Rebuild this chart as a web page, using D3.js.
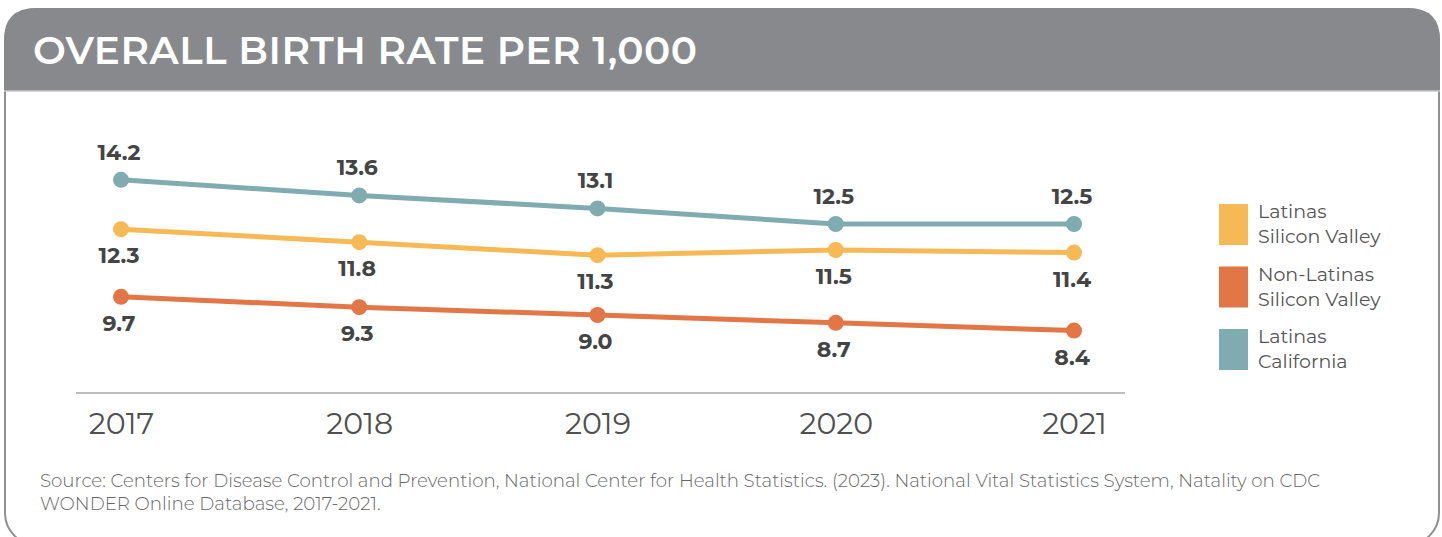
<!DOCTYPE html>
<meta charset="utf-8">
<style>
body { margin: 0; background: #fff; }
text { font-family: "Montserrat", "Inter", "Lato", sans-serif; }
</style>
<svg width="1442" height="537"></svg>
<script src="https://d3js.org/d3.v7.min.js"></script>
<script>
// data
const years = ["2017", "2018", "2019", "2020", "2021"];
const latinasSV = [12.3, 11.8, 11.3, 11.5, 11.4];
const nonLatinasSV = [9.7, 9.3, 9.0, 8.7, 8.4];
const latinasCA = [14.2, 13.6, 13.1, 12.5, 12.5];
const seriesNames = [["Latinas", "Silicon Valley"], ["Non-Latinas", "Silicon Valley"], ["Latinas", "California"]];
const seriesColors = ["#f7b955", "#e27646", "#7fabb1"];
const title = "OVERALL BIRTH RATE PER 1,000";
const sourceLines = [
  "Source: Centers for Disease Control and Prevention, National Center for Health Statistics. (2023). National Vital Statistics System, Natality on CDC",
  "WONDER Online Database, 2017-2021."
];

const series = [
  {values: latinasSV, color: seriesColors[0], above: false},
  {values: nonLatinasSV, color: seriesColors[1], above: false},
  {values: latinasCA, color: seriesColors[2], above: true}
];

const svg = d3.select("svg");

// panel
svg.append("rect")
  .attr("x", 5).attr("y", 9).attr("width", 1434).attr("height", 536)
  .attr("rx", 32).attr("fill", "#fff").attr("stroke", "#8f9094").attr("stroke-width", 2);

// header: rounded top, square bottom
const hx = 4, hy = 8, hw = 1436, hh = 83, r = 32;
svg.append("path")
  .attr("d", `M${hx},${hy + hh} V${hy + r} Q${hx},${hy} ${hx + r},${hy} H${hx + hw - r} Q${hx + hw},${hy} ${hx + hw},${hy + r} V${hy + hh} Z`)
  .attr("fill", "#88898d");
svg.append("line")
  .attr("x1", hx).attr("x2", hx + hw).attr("y1", hy + hh).attr("y2", hy + hh)
  .attr("stroke", "#c8c8ca").attr("stroke-width", 1.5);

const titleText = svg.append("text")
  .attr("x", 33).attr("y", 64)
  .attr("fill", "#fff").attr("font-size", 39).attr("font-weight", 600)
  .text(title);
// fit spacing to the reference width
const tw = titleText.node().getComputedTextLength();
titleText.attr("letter-spacing", (664 - tw) / (title.length - 1));

// scales
const x = d3.scalePoint().domain(years).range([121, 1074]);
const y = d3.scaleLinear().domain([6, 15]).range([393, 159]);

// axis
const xAxis = svg.append("g")
  .attr("transform", "translate(0,393)")
  .call(d3.axisBottom(x).tickSize(0).tickPadding(38));
xAxis.select(".domain").remove();
xAxis.selectAll("text")
  .attr("font-size", 30).attr("fill", "#505050").attr("font-family", "Montserrat, Inter, Lato, sans-serif")
  .attr("dy", "0.1em");
svg.append("line")
  .attr("x1", 76).attr("x2", 1125).attr("y1", 393).attr("y2", 393)
  .attr("stroke", "#a9a9a9").attr("stroke-width", 1.5);

const line = d3.line()
  .x((d, i) => x(years[i]))
  .y(d => y(d));

series.forEach(s => {
  const g = svg.append("g");
  g.append("path")
    .datum(s.values)
    .attr("d", line)
    .attr("fill", "none")
    .attr("stroke", s.color)
    .attr("stroke-width", 5);
  g.selectAll("circle")
    .data(s.values)
    .enter()
    .append("circle")
    .attr("cx", (d, i) => x(years[i]))
    .attr("cy", d => y(d))
    .attr("r", 8)
    .attr("fill", s.color);
  g.selectAll("text")
    .data(s.values)
    .enter()
    .append("text")
    .attr("x", (d, i) => x(years[i]) - 2)
    .attr("y", d => y(d) + (s.above ? -20 : 34))
    .attr("text-anchor", "middle")
    .attr("font-size", 22)
    .attr("font-weight", 700)
    .attr("fill", "#444")
    .text(d => d.toFixed(1));
});

// legend
const legend = svg.append("g").attr("transform", "translate(1219,204)");
seriesNames.forEach((n, i) => {
  const lg = legend.append("g").attr("transform", `translate(0,${i * 62.5})`);
  lg.append("rect").attr("width", 29).attr("height", 41).attr("fill", seriesColors[i]);
  lg.selectAll("text")
    .data(n)
    .enter()
    .append("text")
    .attr("x", 39)
    .attr("y", (d, j) => 14 + j * 25)
    .attr("font-size", 19)
    .attr("fill", "#555")
    .text(d => d);
});

// source
svg.append("g").selectAll("text")
  .data(sourceLines)
  .enter()
  .append("text")
  .attr("x", 40)
  .attr("y", (d, i) => 487 + i * 23)
  .attr("font-size", 18.2)
  .attr("font-weight", 300)
  .attr("fill", "#666")
  .text(d => d);
</script>
